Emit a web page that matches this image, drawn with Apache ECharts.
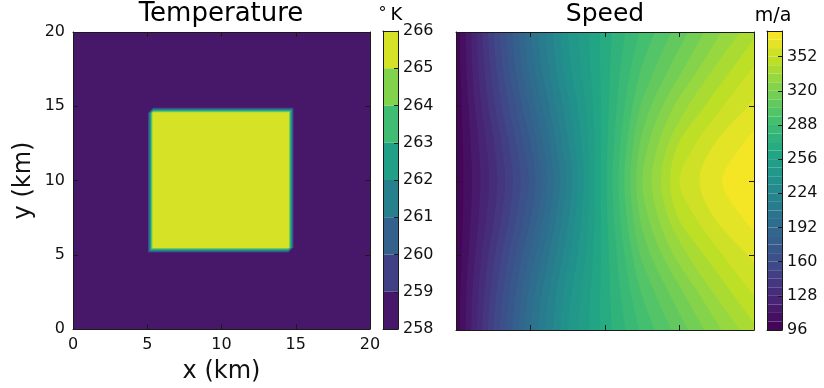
<!DOCTYPE html>
<html>
<head>
<meta charset="utf-8">
<title>Temperature / Speed</title>
<script src="https://cdn.jsdelivr.net/npm/echarts@6/dist/echarts.min.js"></script>
</head>
<body style="margin:0;padding:0;background:#ffffff;">
<div id="main" style="width:824px;height:388px;"></div>
<script type="text/javascript">
/*************************************************************
* data
*************************************************************/
// viridis stops for the colour maps
var viridis = ['#440154', '#482475', '#414487', '#355f8d', '#2a788e', '#21918c',
               '#22a884', '#44bf70', '#7ad151', '#bddf26', '#fde725'];

// Temperature: contour levels and the grid nodes of the warm square (km)
var tempLevels = [258, 259, 260, 261, 262, 263, 264, 265, 266];
var tempXNodes = [0, 5.0, 5.4, 14.5, 14.9, 20];
var tempYNodes = [0, 5.1, 5.5, 14.55, 14.95, 20];
var tempOutside = 258;
var tempInside = 266;

// Speed: contour levels and the sampled field (rows = y, columns = x)
var speedLevels = [96, 104, 112, 120, 128, 136, 144, 152, 160, 168, 176, 184, 192, 200,
                   208, 216, 224, 232, 240, 248, 256, 264, 272, 280, 288, 296, 304, 312,
                   320, 328, 336, 344, 352, 360, 368, 376];
var speedX = [0, 2.5, 5, 7.5, 10, 12.5, 15, 17.5, 20];
var speedY = [0, 2.5, 5, 7.5, 10, 12.5, 15, 17.5, 20];
var speedGrid = [
    [98, 152, 200, 240, 268, 290, 308, 326, 342],
    [98, 148, 195, 237, 268, 297, 318, 338, 353],
    [97, 142, 186, 230, 268, 306, 332, 350, 362],
    [97, 135, 176, 223, 269, 315, 345, 361, 371],
    [97, 132, 170, 218, 270, 320, 352, 367, 374],
    [97, 135, 176, 223, 269, 315, 345, 361, 371],
    [97, 142, 186, 230, 268, 306, 332, 350, 362],
    [98, 148, 195, 237, 268, 297, 318, 338, 353],
    [98, 152, 200, 240, 268, 290, 308, 326, 342]
];

var tempTickStep = 1;
var speedTickStep = 32;
var kmTickStep = 5;

/*************************************************************
* contour helpers
*************************************************************/
function bands(levels) {
    var out = [];
    for (var k = 0; k < levels.length - 1; k++) {
        out.push([k, (levels[k] + levels[k + 1]) / 2]);
    }
    return out;
}

// region T >= L of the square (diagonal cut in the top-left / bottom-right cells)
function tempRegion(L) {
    var X = tempXNodes, Y = tempYNodes;
    var f = (L - tempOutside) / (tempInside - tempOutside);
    var left = X[1] + f * (X[2] - X[1]);
    var right = X[4] - f * (X[4] - X[3]);
    var bottom = Y[1] + f * (Y[2] - Y[1]);
    var top = Y[4] - f * (Y[4] - Y[3]);
    return [[left, bottom], [X[3], bottom], [right, Y[2]], [right, top], [X[2], top], [left, Y[3]]];
}

function crossX(row, L) {
    if (row[0] >= L) return speedX[0];
    for (var i = 1; i < row.length; i++) {
        if (row[i] >= L) {
            var t = (L - row[i - 1]) / (row[i] - row[i - 1]);
            return speedX[i - 1] + t * (speedX[i] - speedX[i - 1]);
        }
    }
    return null;
}

// region S >= L (field grows to the right along every row):
// the contour line itself plus the corners needed to close it on the right edge
function speedRegion(L) {
    var last = speedX.length - 1, xr = speedX[last], ny = speedY.length;
    var line = [], close = [], prev = null;
    for (var j = 0; j < ny; j++) {
        var row = speedGrid[j];
        var has = row[last] >= L;
        if (j > 0 && has !== prev) {
            var a = speedGrid[j - 1][last], b = row[last];
            var t = (L - a) / (b - a);
            line.push([xr, speedY[j - 1] + t * (speedY[j] - speedY[j - 1])]);
        }
        if (has) line.push([crossX(row, L), speedY[j]]);
        prev = has;
    }
    if (speedGrid[ny - 1][last] >= L) close.push([xr, speedY[ny - 1]]);
    if (speedGrid[0][last] >= L) close.push([xr, speedY[0]]);
    return { line: line, close: close };
}

// Catmull-Rom smoothing of a contour line, as a contouring routine would draw it
function smoothLine(pts, n) {
    if (pts.length < 3) return pts;
    var out = [pts[0]];
    for (var i = 0; i < pts.length - 1; i++) {
        var p0 = pts[Math.max(i - 1, 0)], p1 = pts[i], p2 = pts[i + 1];
        var p3 = pts[Math.min(i + 2, pts.length - 1)];
        for (var s = 1; s <= n; s++) {
            var t = s / n, t2 = t * t, t3 = t2 * t;
            var q = [0, 1].map(function (d) {
                return 0.5 * (2 * p1[d] + (p2[d] - p0[d]) * t +
                    (2 * p0[d] - 5 * p1[d] + 4 * p2[d] - p3[d]) * t2 +
                    (3 * p1[d] - p0[d] - 3 * p2[d] + p3[d]) * t3);
            });
            out.push(q);
        }
    }
    return out;
}

function renderTemp(params, api) {
    var k = api.value(0);
    var X = tempXNodes, Y = tempYNodes;
    var pts = (k === 0)
        ? [[X[0], Y[0]], [X[X.length - 1], Y[0]], [X[X.length - 1], Y[Y.length - 1]], [X[0], Y[Y.length - 1]]]
        : tempRegion(tempLevels[k]);
    return {
        type: 'polygon',
        shape: { points: pts.map(function (p) { return api.coord(p); }) },
        style: { fill: api.visual('color'), stroke: null }
    };
}

function renderSpeed(params, api) {
    var k = api.value(0);
    var reg = speedRegion(speedLevels[k]);
    if (reg.line.length < 2) return null;
    var pts = smoothLine(reg.line, 10).concat(reg.close);
    return {
        type: 'polygon',
        shape: { points: pts.map(function (p) { return api.coord(p); }) },
        style: { fill: api.visual('color'), stroke: null }
    };
}

function colorbarRender(levels) {
    return function (params, api) {
        var k = api.value(0);
        var p0 = api.coord([0, levels[k]]);
        var p1 = api.coord([1, levels[k + 1]]);
        return {
            type: 'rect',
            shape: { x: p0[0], y: p1[1], width: p1[0] - p0[0], height: p0[1] - p1[1] },
            style: { fill: api.visual('color'), stroke: null }
        };
    };
}

/*************************************************************
* axes
*************************************************************/
var frameLine = { color: '#1a1a1a', width: 1 };
var labelColor = '#111111';

function plotAxis(grid, pos, labels) {
    return {
        type: 'value', gridIndex: grid, position: pos, min: 0, max: 20, interval: kmTickStep, z: 10,
        axisLine: { show: true, onZero: false, lineStyle: frameLine },
        axisTick: { show: true, inside: true, length: 5, lineStyle: frameLine },
        axisLabel: { show: labels, fontSize: 16, color: labelColor, margin: 8 },
        splitLine: { show: false }
    };
}

function frameAxis(grid, pos, min, max) {
    return {
        type: 'value', gridIndex: grid, position: pos, min: min, max: max, z: 10,
        axisLine: { show: true, onZero: false, lineStyle: frameLine },
        axisTick: { show: false }, axisLabel: { show: false }, splitLine: { show: false }
    };
}

function scaleAxis(grid, levels, step, showMax) {
    return {
        type: 'value', gridIndex: grid, position: 'right', z: 10,
        min: levels[0], max: levels[levels.length - 1], interval: step,
        axisLine: { show: true, onZero: false, lineStyle: frameLine },
        axisTick: { show: true, inside: true, length: 4, lineStyle: frameLine },
        axisLabel: { show: true, fontSize: 16, color: labelColor, margin: 5, showMaxLabel: showMax },
        splitLine: { show: false }
    };
}

var xTemp = plotAxis(0, 'bottom', true);
xTemp.name = 'x (km)';
xTemp.nameLocation = 'middle';
xTemp.nameGap = 31;
xTemp.nameTextStyle = { fontSize: 24, color: labelColor };
var yTemp = plotAxis(0, 'left', true);
yTemp.name = 'y (km)';
yTemp.nameLocation = 'middle';
yTemp.nameGap = 37;
yTemp.nameTextStyle = { fontSize: 24, color: labelColor };

var chart = echarts.init(document.getElementById('main'));
var option = {
    animation: false,
    backgroundColor: '#ffffff',
    textStyle: { fontFamily: 'DejaVu Sans' },
    grid: [
        { left: 73, top: 32, width: 297, height: 297, outerBoundsMode: 'none' },
        { left: 383, top: 31, width: 15, height: 298, outerBoundsMode: 'none' },
        { left: 456, top: 32, width: 298, height: 298, outerBoundsMode: 'none' },
        { left: 767, top: 31, width: 15, height: 299, outerBoundsMode: 'none' }
    ],
    xAxis: [
        xTemp,
        plotAxis(0, 'top', false),
        frameAxis(1, 'bottom', 0, 1),
        frameAxis(1, 'top', 0, 1),
        plotAxis(2, 'bottom', false),
        plotAxis(2, 'top', false),
        frameAxis(3, 'bottom', 0, 1),
        frameAxis(3, 'top', 0, 1)
    ],
    yAxis: [
        yTemp,
        plotAxis(0, 'right', false),
        scaleAxis(1, tempLevels, tempTickStep, true),
        frameAxis(1, 'left', tempLevels[0], tempLevels[tempLevels.length - 1]),
        plotAxis(2, 'left', false),
        plotAxis(2, 'right', false),
        scaleAxis(3, speedLevels, speedTickStep, false),
        frameAxis(3, 'left', speedLevels[0], speedLevels[speedLevels.length - 1])
    ],
    visualMap: [
        { type: 'continuous', show: false, seriesIndex: [0, 1], dimension: 1,
          min: tempLevels[0], max: tempLevels[tempLevels.length - 1], inRange: { color: viridis } },
        { type: 'continuous', show: false, seriesIndex: [2, 3], dimension: 1,
          min: speedLevels[0], max: speedLevels[speedLevels.length - 1], inRange: { color: viridis } }
    ],
    series: [
        { type: 'custom', name: 'Temperature', xAxisIndex: 0, yAxisIndex: 0, clip: true, silent: true,
          renderItem: renderTemp, data: bands(tempLevels) },
        { type: 'custom', name: 'Temperature scale', xAxisIndex: 2, yAxisIndex: 2, silent: true,
          renderItem: colorbarRender(tempLevels), data: bands(tempLevels) },
        { type: 'custom', name: 'Speed', xAxisIndex: 4, yAxisIndex: 4, clip: true, silent: true,
          renderItem: renderSpeed, data: bands(speedLevels) },
        { type: 'custom', name: 'Speed scale', xAxisIndex: 6, yAxisIndex: 6, silent: true,
          renderItem: colorbarRender(speedLevels), data: bands(speedLevels) }
    ],
    graphic: [
        { type: 'text', x: 221, y: 14, style: { text: 'Temperature', fontSize: 26, fontFamily: 'DejaVu Sans',
          fill: '#000', align: 'center', verticalAlign: 'middle' } },
        { type: 'text', x: 605, y: 14, style: { text: 'Speed', fontSize: 25, fontFamily: 'DejaVu Sans',
          fill: '#000', align: 'center', verticalAlign: 'middle' } },
        { type: 'text', x: 382.5, y: 13.5, style: { text: '°', fontSize: 16, fontFamily: 'DejaVu Sans',
          fill: '#000', align: 'center', verticalAlign: 'middle' } },
        { type: 'text', x: 396.5, y: 15, style: { text: 'K', fontSize: 18, fontFamily: 'DejaVu Sans',
          fill: '#000', align: 'center', verticalAlign: 'middle' } },
        { type: 'text', x: 773, y: 16, style: { text: 'm/a', fontSize: 19, fontFamily: 'DejaVu Sans',
          fill: '#000', align: 'center', verticalAlign: 'middle' } }
    ]
};
chart.setOption(option);
</script>
</body>
</html>
